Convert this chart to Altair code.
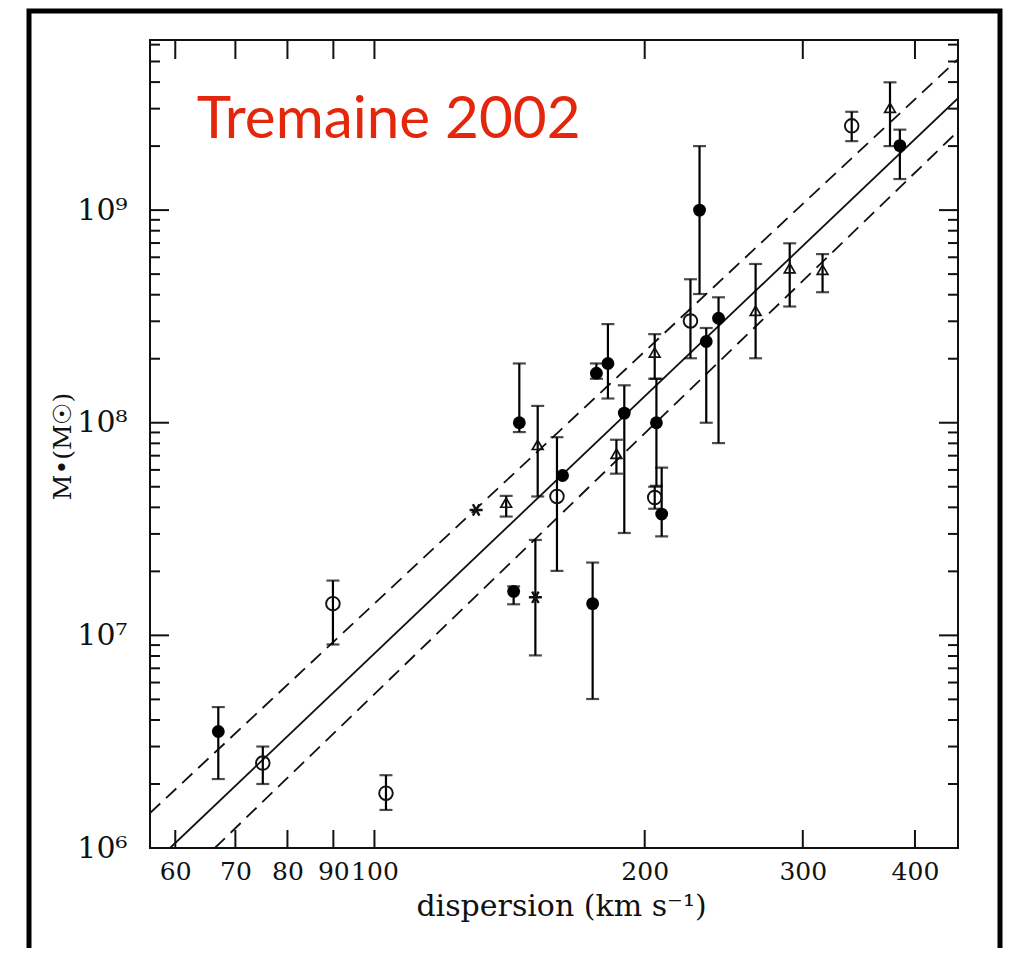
import altair as alt
import pandas as pd

# ---- data ----
sigma = [67.0, 75.1, 89.9, 103.0, 129.8, 140.2, 145.0, 142.9, 151.1, 152.0,
         159.7, 162.0, 176.7, 182.0, 189.8, 186.0, 205.2, 206.1, 205.2, 208.9,
         224.9, 230.2, 234.2, 241.7, 265.8, 290.1, 315.6, 340.1, 375.2, 384.8, 175.0]
mass = [3.53e6, 2.51e6, 1.41e7, 1.81e6, 3.89e7, 4.21e7, 1.0e8, 1.61e7, 1.51e7, 7.87e7,
        4.5e7, 5.65e7, 1.71e8, 1.9e8, 1.11e8, 7.15e7, 2.14e8, 1.0e8, 4.45e7, 3.72e7,
        3.01e8, 1.0e9, 2.41e8, 3.1e8, 3.36e8, 5.33e8, 5.24e8, 2.49e9, 3.03e9, 2.01e9, 1.41e7]
mass_lo = [2.11e6, 2.0e6, 9.06e6, 1.51e6, None, 3.62e7, 9.04e7, 1.40e7, 8.05e6, 4.5e7,
           2.01e7, None, 1.61e8, 1.30e8, 3.03e7, 5.76e7, 1.61e8, 5.05e7, 3.94e7, 2.92e7,
           2.01e8, 4.03e8, 1.0e8, 8.02e7, 2.01e8, 3.52e8, 4.11e8, 2.11e9, 2.0e9, 1.40e9, 5.02e6]
mass_hi = [4.6e6, 3.0e6, 1.81e7, 2.2e6, None, 4.53e7, 1.9e8, 1.70e7, 2.81e7, 1.2e8,
           8.55e7, None, 1.9e8, 2.91e8, 1.50e8, 8.32e7, 2.61e8, 1.61e8, 5.0e7, 6.15e7,
           4.73e8, 2.0e9, 2.79e8, 3.89e8, 5.58e8, 6.98e8, 6.21e8, 2.9e9, 3.99e9, 2.39e9, 2.2e7]
kind = ["filled", "open", "open", "open", "star", "tri", "filled", "filled", "star", "tri",
        "open", "filled", "filled", "filled", "filled", "tri", "tri", "filled", "open", "filled",
        "open", "filled", "filled", "filled", "tri", "tri", "tri", "open", "tri", "filled", "filled"]

# fit line end points (read where they meet the frame)
fit_sigma_solid = [59.2, 446.7]
fit_mass_solid = [1.0e6, 3.36e9]
fit_sigma_upper = [56.23, 446.7]
fit_mass_upper = [1.46e6, 5.13e9]
fit_sigma_lower = [66.4, 446.7]
fit_mass_lower = [1.0e6, 2.35e9]

x_ticks = [60, 70, 80, 90, 100, 200, 300, 400]
y_major = [1e6, 1e7, 1e8, 1e9]
y_major_labels = ["10⁶", "10⁷", "10⁸", "10⁹"]
y_minor = [2e6, 3e6, 4e6, 5e6, 6e6, 7e6, 8e6, 9e6,
           2e7, 3e7, 4e7, 5e7, 6e7, 7e7, 8e7, 9e7,
           2e8, 3e8, 4e8, 5e8, 6e8, 7e8, 8e8, 9e8,
           2e9, 3e9, 4e9, 5e9, 6e9]

title_text = "Tremaine 2002"
x_title = "dispersion (km s⁻¹)"
y_title = "M•(M☉)"

# ---- tables ----
pts = pd.DataFrame({"sigma": sigma, "M": mass, "lo": mass_lo, "hi": mass_hi, "kind": kind})
err = pts.dropna(subset=["lo", "hi"])
caps = pd.concat([
    pd.DataFrame({"sigma": err["sigma"], "M": err["lo"]}),
    pd.DataFrame({"sigma": err["sigma"], "M": err["hi"]}),
])
fits = pd.concat([
    pd.DataFrame({"sigma": fit_sigma_solid, "M": fit_mass_solid, "line": "solid"}),
    pd.DataFrame({"sigma": fit_sigma_upper, "M": fit_mass_upper, "line": "upper"}),
    pd.DataFrame({"sigma": fit_sigma_lower, "M": fit_mass_lower, "line": "lower"}),
])

W = 808
H = 808
INK = "#111111"
SERIF = "DejaVu Serif"

xscale = alt.Scale(type="log", domain=[56.234, 446.684], nice=False, zero=False)
yscale = alt.Scale(type="log", domain=[1e6, 6.3096e9], nice=False, zero=False)

label_expr = " : ".join(f"datum.value == {v:g} ? '{lab}'" for v, lab in zip(y_major, y_major_labels)) + " : ''"

x_axis = alt.Axis(values=x_ticks, format="d", domain=False, ticks=False, grid=False,
                  labelFont=SERIF, labelFontSize=25, labelColor=INK,
                  labelBaseline="alphabetic", labelPadding=31,
                  title=x_title, titleFont=SERIF, titleFontSize=30, titleFontWeight="normal",
                  titleColor=INK, titleX=411, titleY=67, titleBaseline="alphabetic")
y_axis = alt.Axis(values=y_major, labelExpr=label_expr, domain=False, ticks=False, grid=False,
                  labelFont=SERIF, labelFontSize=30, labelColor=INK, labelPadding=23,
                  title=y_title, titleFont=SERIF, titleFontSize=25, titleFontWeight="normal",
                  titleColor=INK, titleX=-88, titleY=406, titleBaseline="middle", titleAngle=270)

X = alt.X("sigma:Q", scale=xscale, axis=x_axis)
Y = alt.Y("M:Q", scale=yscale, axis=y_axis)

one = pd.DataFrame({"t": [title_text]})

border = alt.Chart(one).mark_rect(fillOpacity=0, stroke="#000000", strokeWidth=5).encode(
    x=alt.value(-121), x2=alt.value(850), y=alt.value(-29), y2=alt.value(940))

solid = alt.Chart(fits).transform_filter("datum.line == 'solid'").mark_line(
    clip=True, color=INK, strokeWidth=1.8).encode(x=X, y=Y)
dashed = alt.Chart(fits).transform_filter("datum.line != 'solid'").mark_line(
    clip=True, color=INK, strokeWidth=1.8, strokeDash=[14, 8]).encode(
    x=X, y=Y, detail="line:N")

err_rules = alt.Chart(err).mark_rule(color="#000000", strokeWidth=2.2).encode(
    x=X, y=alt.Y("lo:Q", scale=yscale, axis=y_axis), y2="hi:Q")
err_caps = alt.Chart(caps).mark_tick(orient="horizontal", size=13, thickness=2.2, color="#000000").encode(
    x=X, y=Y)

filled = alt.Chart(pts).transform_filter("datum.kind == 'filled'").mark_point(
    shape="circle", filled=True, size=165, color="#000000", opacity=1).encode(x=X, y=Y)
opened = alt.Chart(pts).transform_filter("datum.kind == 'open'").mark_point(
    shape="circle", filled=False, size=185, strokeWidth=1.9, color=INK, opacity=1).encode(x=X, y=Y)
tris = alt.Chart(pts).transform_filter("datum.kind == 'tri'").mark_point(
    shape="triangle-up", filled=False, size=115, strokeWidth=1.7, color=INK, opacity=1).encode(x=X, y=Y)
stars = alt.Chart(pts).transform_filter("datum.kind == 'star'").mark_point(
    shape="M-1,0L1,0M-0.5,-0.87L0.5,0.87M-0.5,0.87L0.5,-0.87", filled=False, size=170,
    strokeWidth=2.4, color=INK, opacity=1).encode(x=X, y=Y)

xt = pd.DataFrame({"sigma": x_ticks})
ymaj = pd.DataFrame({"M": y_major})
ymin = pd.DataFrame({"M": y_minor})

xt_bottom = alt.Chart(xt).mark_rule(color=INK, strokeWidth=2).encode(
    x=X, y=alt.value(H), y2=alt.value(H - 18))
xt_top = alt.Chart(xt).mark_rule(color=INK, strokeWidth=2).encode(
    x=X, y=alt.value(0), y2=alt.value(19))
ymaj_left = alt.Chart(ymaj).mark_rule(color=INK, strokeWidth=2).encode(
    y=Y, x=alt.value(0), x2=alt.value(19))
ymaj_right = alt.Chart(ymaj).mark_rule(color=INK, strokeWidth=2).encode(
    y=Y, x=alt.value(W), x2=alt.value(W - 19))
ymin_left = alt.Chart(ymin).mark_rule(color=INK, strokeWidth=2).encode(
    y=Y, x=alt.value(0), x2=alt.value(10))
ymin_right = alt.Chart(ymin).mark_rule(color=INK, strokeWidth=2).encode(
    y=Y, x=alt.value(W), x2=alt.value(W - 10))

label = alt.Chart(one).mark_text(font="Lato", fontSize=58.4, color="#E3260C", align="left",
                                 baseline="alphabetic").encode(
    text="t:N", x=alt.value(46.7), y=alt.value(98.3))

chart = alt.layer(
    border, solid, dashed, err_rules, err_caps, filled, opened, tris, stars,
    xt_bottom, xt_top, ymaj_left, ymaj_right, ymin_left, ymin_right, label
).properties(
    width=W, height=H,
    padding={"left": 142, "top": 32, "right": 45, "bottom": 100},
    autosize=alt.AutoSizeParams(type="none"),
    background="#ffffff",
).configure_view(stroke=INK, strokeWidth=2)

chart.save("out.html", embed_options={"renderer": "svg", "actions": False})
